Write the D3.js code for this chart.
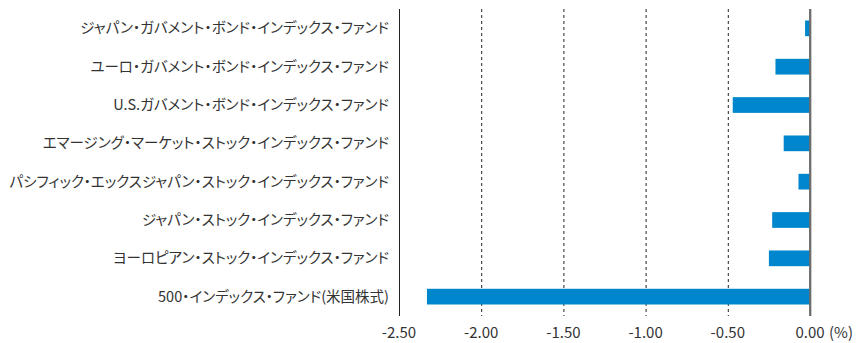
<!DOCTYPE html>
<meta charset="utf-8">
<style>
body {
  margin: 0;
  background: #fff;
}
svg text {
  font-family: "Noto Sans CJK JP", "Noto Sans", sans-serif;
  fill: #333;
}
.fund-label {
  font-size: 14.5px;
  font-feature-settings: "palt";
}
.tick-label {
  font-size: 15px;
}
</style>
<script src="https://cdnjs.cloudflare.com/ajax/libs/d3/7.8.5/d3.min.js"></script>
<body></body>
<script>

var funds = [
  'ジャパン・ガバメント・ボンド・インデックス・ファンド',
  'ユーロ・ガバメント・ボンド・インデックス・ファンド',
  'U.S.ガバメント・ボンド・インデックス・ファンド',
  'エマージング・マーケット・ストック・インデックス・ファンド',
  'パシフィック・エックスジャパン・ストック・インデックス・ファンド',
  'ジャパン・ストック・インデックス・ファンド',
  'ヨーロピアン・ストック・インデックス・ファンド',
  '500・インデックス・ファンド(米国株式)'
];
var returns = [-0.03, -0.21, -0.47, -0.16, -0.07, -0.23, -0.25, -2.33];
var xTicks = [-2.5, -2.0, -1.5, -1.0, -0.5, 0];

var width = 868;
var height = 343;
var plot = { left: 399, right: 810, top: 9, bottom: 316 };

var svg = d3.select('body').append('svg')
  .attr('width', width)
  .attr('height', height);

var x = d3.scaleLinear()
  .domain([-2.5, 0])
  .range([plot.left, plot.right]);

var y = d3.scaleBand()
  .domain(funds)
  .range([plot.top, plot.bottom])
  .paddingInner(0.59)
  .paddingOuter(0.3);

//dashed gridlines
svg.append('g')
  .selectAll('line')
  .data(xTicks.filter(function(d) { return d > -2.5 && d < 0; }))
  .enter().append('line')
  .attr('x1', function(d) { return x(d) + 0.5; })
  .attr('x2', function(d) { return x(d) + 0.5; })
  .attr('y1', plot.top)
  .attr('y2', plot.bottom)
  .attr('stroke', '#222')
  .attr('stroke-width', 1)
  .attr('stroke-dasharray', '3,3');

//bars
svg.append('g')
  .selectAll('rect')
  .data(returns)
  .enter().append('rect')
  .attr('x', function(d) { return x(d); })
  .attr('y', function(d, i) { return y(funds[i]); })
  .attr('width', function(d) { return x(0) - x(d); })
  .attr('height', y.bandwidth())
  .attr('fill', '#0086cc');

//left axis line
svg.append('line')
  .attr('x1', plot.left + 0.5)
  .attr('x2', plot.left + 0.5)
  .attr('y1', plot.top)
  .attr('y2', plot.bottom)
  .attr('stroke', '#222')
  .attr('stroke-width', 1);

//zero line
svg.append('line')
  .attr('x1', x(0) + 0.5)
  .attr('x2', x(0) + 0.5)
  .attr('y1', plot.top)
  .attr('y2', plot.bottom)
  .attr('stroke', '#bbb')
  .attr('stroke-width', 2.5);
svg.append('line')
  .attr('x1', x(0))
  .attr('x2', x(0))
  .attr('y1', plot.top)
  .attr('y2', plot.bottom)
  .attr('stroke', '#555')
  .attr('stroke-width', 1.5);

//fund labels
svg.append('g')
  .selectAll('text')
  .data(funds)
  .enter().append('text')
  .attr('class', 'fund-label')
  .attr('x', 389)
  .attr('y', function(d) { return y(d) + y.bandwidth() / 2; })
  .attr('dy', '0.35em')
  .attr('text-anchor', 'end')
  .text(function(d) { return d; });

//x tick labels (plain hyphen for the minus sign)
svg.append('g')
  .selectAll('text')
  .data(xTicks)
  .enter().append('text')
  .attr('class', 'tick-label')
  .attr('x', function(d) { return x(d); })
  .attr('y', 333)
  .attr('dy', '0.35em')
  .attr('text-anchor', 'middle')
  .text(function(d) { return d3.format('.2f')(d).replace('\u2212', '-'); });

svg.append('text')
  .attr('class', 'tick-label')
  .attr('x', 829)
  .attr('y', 333)
  .attr('dy', '0.35em')
  .text('(%)');

</script>
